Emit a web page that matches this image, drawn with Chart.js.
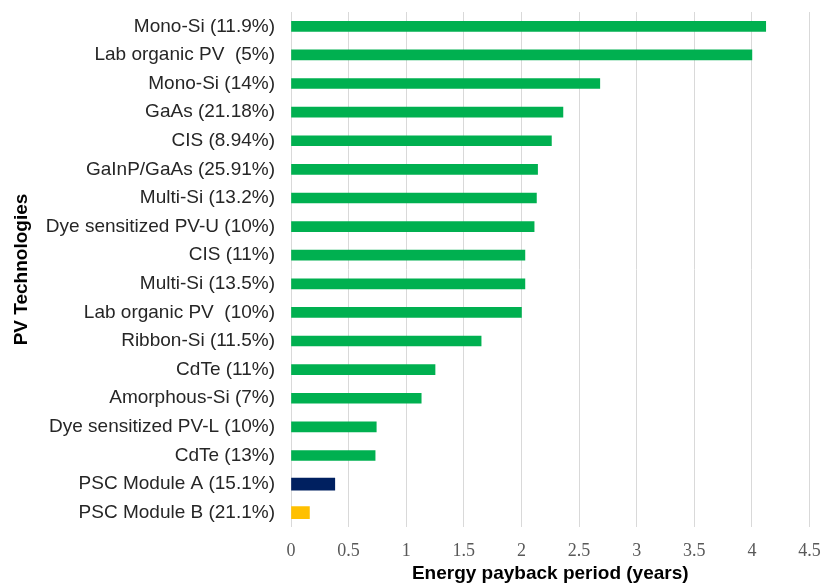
<!DOCTYPE html>
<html>
<head>
<meta charset="utf-8">
<script src="https://cdn.jsdelivr.net/npm/chart.js@4"></script>
<style>
html,body{margin:0;padding:0;background:#fff;}
#wrap{width:824px;height:588px;position:relative;}
</style>
</head>
<body>
<div id="wrap"><canvas id="c"></canvas></div>
<script>
const categories = [
  "Mono-Si (11.9%)",
  "Lab organic PV  (5%)",
  "Mono-Si (14%)",
  "GaAs (21.18%)",
  "CIS (8.94%)",
  "GaInP/GaAs (25.91%)",
  "Multi-Si (13.2%)",
  "Dye sensitized PV-U (10%)",
  "CIS (11%)",
  "Multi-Si (13.5%)",
  "Lab organic PV  (10%)",
  "Ribbon-Si (11.5%)",
  "CdTe (11%)",
  "Amorphous-Si (7%)",
  "Dye sensitized PV-L (10%)",
  "CdTe (13%)",
  "PSC Module A (15.1%)",
  "PSC Module B (21.1%)"
];
const paybackYears = [4.12, 4.0, 2.68, 2.36, 2.26, 2.14, 2.13, 2.11, 2.03, 2.03, 2.0, 1.65, 1.25, 1.13, 0.74, 0.73, 0.38, 0.16];
const isPSC = [false,false,false,false,false,false,false,false,false,false,false,false,false,false,false,false,true,true];
const pscColors = ["#002060", "#ffc000"];
const xTicks = [0, 0.5, 1, 1.5, 2, 2.5, 3, 3.5, 4, 4.5];

const greenData = paybackYears.map((v, i) => isPSC[i] ? null : v);
const pscData = paybackYears.map((v, i) => isPSC[i] ? v : null);
let k = 0;
const pscBg = paybackYears.map((v, i) => isPSC[i] ? pscColors[k++] : "#00b050");

new Chart(document.getElementById('c'), {
  type: 'bar',
  data: {
    labels: categories,
    datasets: [
      { data: greenData, backgroundColor: "#00b050", barThickness: 10, grouped: false },
      { data: pscData, backgroundColor: pscBg, barThickness: 12, grouped: false }
    ]
  },
  options: {
    indexAxis: 'y',
    responsive: true,
    maintainAspectRatio: false,
    animation: false,
    layout: { padding: { top: 12, right: 14.5, bottom: 0, left: 0 } },
    plugins: { legend: { display: false }, tooltip: { enabled: false } },
    scales: {
      x: {
        min: 0, max: 4.5,
        afterBuildTicks: (s) => { s.ticks = xTicks.map(v => ({ value: v })); },
        afterFit: (s) => { s.height = 61; s.paddingLeft = 0; s.paddingRight = 0; },
        grid: { color: "#d9d9d9", lineWidth: 1, drawTicks: false },
        border: { display: false },
        ticks: {
          padding: 13,
          color: "#595959",
          font: { family: "'Liberation Serif', 'Times New Roman', serif", size: 18 },
          callback: (v) => String(v)
        },
        title: {
          display: true,
          text: "Energy payback period (years)",
          color: "#000",
          font: { family: "'Liberation Sans', Arial, sans-serif", size: 19, weight: 'bold' },
          padding: { top: 0, bottom: 3 }
        }
      },
      y: {
        afterFit: (s) => { s.width = 291; s.paddingTop = 0; s.paddingBottom = 0; },
        grid: { display: false, drawTicks: false },
        border: { display: false },
        ticks: {
          padding: 16,
          color: "#262626",
          font: { family: "'Liberation Sans', Arial, sans-serif", size: 19 },
          autoSkip: false
        },
        title: {
          display: true,
          text: "PV Technologies",
          color: "#000",
          font: { family: "'Liberation Sans', Arial, sans-serif", size: 19, weight: 'bold' },
          padding: { top: 10, bottom: 0 }
        }
      }
    }
  }
});
</script>
</body>
</html>
